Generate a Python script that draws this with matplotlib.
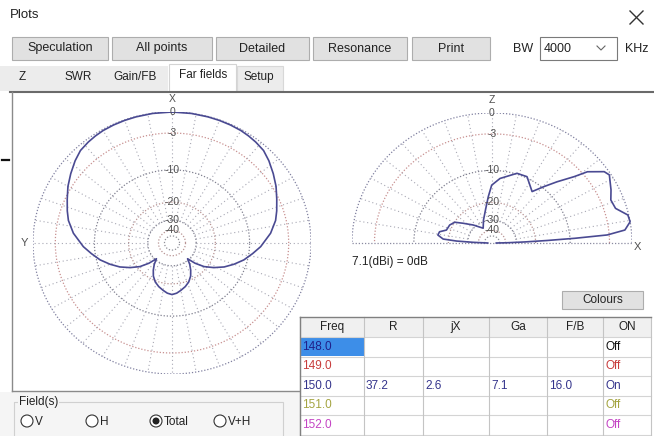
import numpy as np
import matplotlib
matplotlib.use('Agg')
import matplotlib.pyplot as plt
from matplotlib.patches import Rectangle, Circle

plt.rcParams['font.family'] = ['Liberation Sans', 'DejaVu Sans']

W, H = 654, 436

# ---- values ----
# horizontal pattern: degrees from the X axis (one side, the pattern is symmetric), dB
az_deg = [0, 8, 15, 20, 25, 30, 34, 38, 43, 48, 54, 60, 66, 72, 77, 84, 92.5, 98, 104, 110, 116,
          122, 128, 133, 137, 142, 147, 152, 158, 164, 170, 175, 180]
az_db = [0, -0.02, -0.05, -0.07, -0.1, -0.15, -0.25, -0.38, -0.6, -1.1, -1.8, -2.5, -3.3, -4.0,
         -4.6, -5.8, -7.7, -9.2, -10.8, -12.8, -15, -17.8, -21.1, -25.5, -31, -27, -24, -21.5,
         -19.5, -18.2, -17.2, -16.4, -16]

# vertical pattern: elevation degrees from +X horizon over to -X horizon, dB
el_deg = [0, 1, 2, 2.8, 3.5, 4.3, 6, 9.4, 12.5, 16.8, 21.3, 25.7, 32, 34.4, 38.8, 41, 45.4, 49.6,
          54.1, 63.9, 71.6, 83.4, 90.3, 94.3, 100.5, 109, 119, 134, 143.6, 149, 155.4, 163, 167,
          171, 175, 176.6, 177.8, 180]
el_db = [-60, -38, -25, -16, -9, -3.3, -0.8, 0, -0.1, -1.4, -1.6, -1.0, -0.2, -0.5, -2.3, -4.3,
         -7.1, -9.7, -12.3, -9.7, -9.8, -11.9, -13.9, -17.7, -23.3, -28.8, -35, -28.3, -23.4,
         -20.1, -18.9, -18.5, -16.4, -16.1, -18, -23.5, -34.5, -60]

ring_db = [0, -3, -10, -20, -30, -40, -50]
ring_lbl = ['0', '-3', '-10', '-20', '-30', '-40']
ring_col = ['#8080a0', '#c89090', '#808090', '#b89494', '#808090', '#b89494', '#909098']

buttons = ['Speculation', 'All points', 'Detailed', 'Resonance', 'Print']
tabs = ['Z', 'SWR', 'Gain/FB', 'Far fields', 'Setup']

col_names = ['Freq', 'R', 'jX', 'Ga', 'F/B', 'ON']
freq = ['148.0', '149.0', '150.0', '151.0', '152.0']
res_r = ['', '', '37.2', '', '']
res_x = ['', '', '2.6', '', '']
gain = ['', '', '7.1', '', '']
fb = ['', '', '16.0', '', '']
on_off = ['Off', 'Off', 'On', 'Off', 'Off']
row_col = ['#20208a', '#c83c3c', '#34348c', '#a4a440', '#c444c4']
on_col = ['#111111', '#c83c3c', '#34348c', '#a4a440', '#c444c4']

fields = ['V', 'H', 'Total', 'V+H']


def arrl(db):
    # ARRL log scale used by the program
    return 0.89 ** (-np.asarray(db, dtype=float) / 2.0)


fig = plt.figure(figsize=(W / 100, H / 100), dpi=100)
fig.patch.set_facecolor('white')


def px_axes(z):
    ax = fig.add_axes([0, 0, 1, 1], zorder=z)
    ax.set_xlim(0, W)
    ax.set_ylim(H, 0)
    ax.axis('off')
    return ax


def polar_axes(cx, cy, a, b):
    ax = fig.add_axes([(cx - a) / W, (H - cy - b) / H, 2 * a / W, 2 * b / H], zorder=2)
    ax.set_xlim(-1, 1)
    ax.set_ylim(-1, 1)
    ax.axis('off')
    return ax


# ---- window chrome ----
base = px_axes(0)
base.text(10, 15, 'Plots', fontsize=9.5, color='#222222', va='center')
base.plot([630, 643], [11, 24], color='#333333', lw=1)
base.plot([630, 643], [24, 11], color='#333333', lw=1)

btn_x = [(12, 108), (112, 212), (216, 309), (313, 407), (412, 490)]
for (x0, x1), name in zip(btn_x, buttons):
    base.add_patch(Rectangle((x0, 37), x1 - x0, 23, fc='#e1e1e1', ec='#adadad', lw=0.8))
    base.text((x0 + x1) / 2, 48.5, name, fontsize=9, ha='center', va='center', color='#222222')

base.text(523, 48.5, 'BW', fontsize=9, ha='center', va='center', color='#222222')
base.add_patch(Rectangle((540, 37), 77, 23, fc='white', ec='#7a7a7a', lw=0.8))
base.text(544, 48.5, '4000', fontsize=9, va='center', color='#222222')
base.plot([597, 601, 605], [46, 50, 46], color='#666666', lw=0.8)
base.text(625, 48.5, 'KHz', fontsize=9, va='center', color='#222222')

# tabs
base.add_patch(Rectangle((0, 66), 168, 25, fc='#ececec', ec='none'))
base.add_patch(Rectangle((169, 64), 67, 28, fc='white', ec='#d4d4d4', lw=0.8))
base.add_patch(Rectangle((237, 66), 46, 25, fc='#ececec', ec='#d8d8d8', lw=0.8))
tab_x = [22, 78, 135, 203, 259]
for tx, name in zip(tab_x, tabs):
    ty = 75 if name == 'Far fields' else 77
    base.text(tx, ty, name, fontsize=8.5, ha='center', va='center', color='#222222')

# panel borders
base.plot([10, W], [92, 92], color='#6a6a6a', lw=1.5)
base.plot([12, 12], [92, 391], color='#8a8a8a', lw=1)
base.plot([12, 300], [391, 391], color='#8a8a8a', lw=1)
base.plot([2, 9], [160, 160], color='#111111', lw=1.6)

# field selector
base.add_patch(Rectangle((0, 392), 300, 44, fc='#f5f5f5', ec='none'))
base.add_patch(Rectangle((14, 402), 269, 40, fc='none', ec='#d0d0d0', lw=0.8))
base.text(19, 402, 'Field(s)', fontsize=8.5, va='center', color='#222222',
          bbox=dict(fc='#f5f5f5', ec='none', pad=0.5))
rad_x = [27, 92, 156, 220]
for rx, name in zip(rad_x, fields):
    base.add_patch(Circle((rx, 421), 6, fc='white', ec='#333333', lw=0.8))
    if name == 'Total':
        base.add_patch(Circle((rx, 421), 3.5, fc='#222222', ec='none'))
    base.text(rx + 8, 421.5, name, fontsize=8.5, va='center', color='#222222')

# ---- horizontal pattern (left) ----
axl = polar_axes(172, 243, 139, 131)
t = np.linspace(0, 2 * np.pi, 361)
for db, c in zip(ring_db, ring_col):
    r = arrl(db)
    axl.plot(r * np.cos(t), r * np.sin(t), color=c, lw=0.9, ls=(0, (1, 1.5)))
r_in = arrl(-30)
for a in np.radians(np.arange(0, 360, 10)):
    axl.plot([r_in * np.sin(a), np.sin(a)], [r_in * np.cos(a), np.cos(a)],
             color='#a8a8b4', lw=0.8, ls=(0, (1, 2.5)))
for db, lbl in zip(ring_db, ring_lbl):
    axl.text(0, arrl(db), lbl, fontsize=7.5, ha='center', va='center', color='#505050')
axl.text(0, 1.1, 'X', fontsize=7.5, ha='center', va='center', color='#505050')
axl.text(-1.06, 0, 'Y', fontsize=8, ha='center', va='center', color='#505050')

ra = arrl(az_db)
th = np.radians(az_deg)
xs = np.concatenate([-ra * np.sin(th), (ra * np.sin(th))[::-1]])
ys = np.concatenate([ra * np.cos(th), (ra * np.cos(th))[::-1]])
axl.plot(xs, ys, color='#4a4a92', lw=1.2)

# ---- vertical pattern (right) ----
axr = polar_axes(492, 243, 140, 130)
th_half = np.linspace(0, np.pi, 181)
for db, c in zip(ring_db, ring_col):
    r = arrl(db)
    axr.plot(r * np.cos(th_half), r * np.sin(th_half), color=c, lw=0.9, ls=(0, (1, 1.5)))
for a in np.radians(np.arange(10, 180, 10)):
    axr.plot([r_in * np.cos(a), np.cos(a)], [r_in * np.sin(a), np.sin(a)],
             color='#a8a8b4', lw=0.8, ls=(0, (1, 2.5)))
axr.plot([-1, 1], [0, 0], color='#8a8aa0', lw=0.9, ls=(0, (1, 1.5)))
for db, lbl in zip(ring_db, ring_lbl):
    axr.text(0, arrl(db), lbl, fontsize=7.5, ha='center', va='center', color='#505050')
axr.text(0, 1.1, 'Z', fontsize=7.5, ha='center', va='center', color='#505050')
axr.text(1.04, -0.03, 'X', fontsize=8, ha='center', va='center', color='#505050')

re_ = arrl(el_db)
te = np.radians(el_deg)
axr.plot(re_ * np.cos(te), re_ * np.sin(te), color='#4a4a92', lw=1.2)

# ---- overlay: gain note, Colours button, table ----
top = px_axes(3)
top.text(352, 262, '7.1(dBi) = 0dB', fontsize=8.5, va='center', color='#222222')
top.add_patch(Rectangle((562, 291), 81, 18, fc='#e1e1e1', ec='#adadad', lw=0.8))
top.text(602.5, 300, 'Colours', fontsize=8.5, ha='center', va='center', color='#222222')

cx = [300, 364, 423, 489, 547, 603, 651]
head_top, head_h, row_h = 317, 20, 19.5
top.add_patch(Rectangle((300, head_top), 351, head_h, fc='#f0f0f0', ec='none'))
top.add_patch(Rectangle((300, head_top + head_h), 351, H - head_top - head_h, fc='white', ec='none'))
top.add_patch(Rectangle((301, head_top + head_h), cx[1] - 301, row_h - 1, fc='#3d8ee8', ec='none'))
for i in range(len(freq) + 1):
    yy = head_top + head_h + i * row_h
    top.plot([300, 651], [yy, yy], color='#d4d4d4', lw=0.8)
for x in cx:
    top.plot([x, x], [head_top, H], color='#c4c4c4', lw=0.8)
top.plot([300, 651], [head_top, head_top], color='#808080', lw=1)
top.plot([300, 300], [head_top, H], color='#808080', lw=1)
for i, name in enumerate(col_names):
    top.text((cx[i] + cx[i + 1]) / 2, head_top + head_h / 2, name, fontsize=8.5,
             ha='center', va='center', color='#222222')
cols = [freq, res_r, res_x, gain, fb, on_off]
for j in range(len(freq)):
    yy = head_top + head_h + (j + 0.5) * row_h
    for i, vals in enumerate(cols):
        c = on_col[j] if i == 5 else row_col[j]
        top.text(cx[i] + 2, yy, vals[j], fontsize=8.5, va='center', color=c)

fig.savefig('out.png', dpi=100)
